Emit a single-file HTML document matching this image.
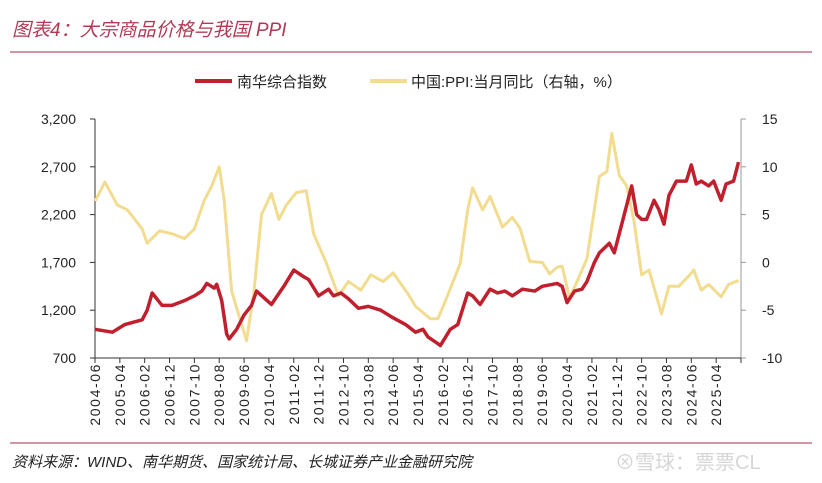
<!DOCTYPE html>
<html><head><meta charset="utf-8"><style>
body{margin:0;background:#fff;width:822px;height:478px;overflow:hidden;font-family:"Liberation Sans","Noto Sans CJK SC",sans-serif;}
svg text{font-family:"Liberation Sans","Noto Sans CJK SC",sans-serif;}
</style></head><body>
<svg id="c" width="822" height="478">
<text x="12" y="36" font-size="19" font-style="italic" fill="#b03a55">图表4：大宗商品价格与我国 PPI</text>
<line x1="10" y1="52" x2="812" y2="52" stroke="#b8566e" stroke-width="1.2"/>
<g>
<g><line x1="195" y1="81" x2="232" y2="81" stroke="#c0202e" stroke-width="4"/><text x="237" y="87" font-size="15" fill="#222">南华综合指数</text></g>
<g><line x1="370" y1="81" x2="407" y2="81" stroke="#f2dc90" stroke-width="4"/><text x="411" y="87" font-size="15" fill="#222">中国:PPI:当月同比（右轴，%）</text></g>
</g>
<g id="axes"></g>
<g id="marks"></g>
<line x1="10" y1="443" x2="812" y2="443" stroke="#b8566e" stroke-width="1.2"/>
<text x="12" y="467" font-size="15" font-style="italic" fill="#222">资料来源：WIND、南华期货、国家统计局、长城证券产业金融研究院</text>
<text x="615" y="469" font-size="20" fill="#d6d6d6">⊗雪球：票票CL</text>
</svg>
<script>
const xLabels=["2004-06","2005-04","2006-02","2006-12","2007-10","2008-08","2009-06","2010-04","2011-02","2011-12","2012-10","2013-08","2014-06","2015-04","2016-02","2016-12","2017-10","2018-08","2019-06","2020-04","2021-02","2021-12","2022-10","2023-08","2024-06","2025-04"];
const leftTicks=[700,1200,1700,2200,2700,3200];
const rightTicks=[-10,-5,0,5,10,15];
const nhDates=["2004-06","2005-01","2005-06","2006-01","2006-03","2006-05","2006-09","2007-01","2007-06","2007-10","2008-01","2008-03","2008-06","2008-07","2008-09","2008-11","2008-12","2009-03","2009-06","2009-09","2009-11","2010-05","2010-10","2011-02","2011-06","2011-08","2011-12","2012-04","2012-06","2012-09","2012-12","2013-04","2013-08","2014-01","2014-06","2014-11","2015-03","2015-06","2015-08","2015-12","2016-01","2016-05","2016-08","2016-12","2017-02","2017-05","2017-09","2017-12","2018-03","2018-06","2018-10","2019-03","2019-06","2019-12","2020-02","2020-04","2020-07","2020-10","2020-12","2021-03","2021-05","2021-09","2021-11","2022-01","2022-04","2022-06","2022-08","2022-10","2022-12","2023-03","2023-05","2023-07","2023-09","2023-12","2024-04","2024-06","2024-08","2024-10","2025-01","2025-03","2025-06","2025-08","2025-11","2026-01"];
const nhValues=[1000,970,1050,1100,1200,1380,1250,1250,1300,1350,1400,1480,1430,1470,1300,950,900,1000,1150,1250,1400,1260,1450,1620,1550,1520,1350,1420,1350,1380,1320,1220,1240,1200,1120,1050,970,1000,920,850,830,1000,1050,1380,1350,1260,1420,1380,1400,1350,1420,1400,1450,1480,1450,1280,1400,1420,1500,1700,1800,1900,1800,2000,2300,2500,2200,2150,2150,2350,2250,2100,2400,2550,2550,2720,2520,2550,2500,2550,2350,2520,2550,2750];
const ppiDates=["2004-06","2004-10","2005-03","2005-07","2006-01","2006-03","2006-08","2007-01","2007-06","2007-10","2008-02","2008-05","2008-08","2008-10","2009-01","2009-07","2009-10","2010-01","2010-05","2010-08","2010-11","2011-03","2011-07","2011-10","2012-03","2012-08","2012-12","2013-05","2013-09","2014-02","2014-06","2014-12","2015-03","2015-09","2015-12","2016-04","2016-09","2016-12","2017-02","2017-06","2017-09","2018-02","2018-06","2018-09","2019-01","2019-06","2019-09","2019-12","2020-02","2020-05","2020-08","2020-12","2021-05","2021-08","2021-10","2022-01","2022-04","2022-07","2022-10","2023-01","2023-06","2023-09","2024-01","2024-05","2024-07","2024-10","2025-01","2025-06","2025-09","2026-01"];
const ppiValues=[6.4,8.4,6,5.5,3.5,2.0,3.3,3,2.5,3.5,6.5,8,10,6.5,-3,-8.2,-3,5,7.2,4.5,6,7.3,7.5,3,0,-3.5,-2,-2.9,-1.3,-2,-1.1,-3.3,-4.6,-5.9,-5.9,-3.4,-0.1,5.5,7.8,5.5,6.9,3.7,4.7,3.6,0.1,0,-1.2,-0.5,-0.4,-3.7,-2,0.4,9,9.5,13.5,9.1,8,4.2,-1.3,-0.8,-5.4,-2.5,-2.5,-1.4,-0.8,-2.9,-2.3,-3.6,-2.3,-1.9];

const NS='http://www.w3.org/2000/svg';
const L=95,R=741,T=119,B=358;
function months(d){const [y,m]=d.split('-').map(Number);return (y-2004)*12+(m-6);}
function xs(d){return L+months(d)*(R-L)/260;}
function yl(v){return B-(v-700)/2500*(B-T);}
function yr(v){return B-(v+10)/25*(B-T);}
function mk(tag,attrs,parent){const e=document.createElementNS(NS,tag);for(const k in attrs)e.setAttribute(k,attrs[k]);parent.appendChild(e);return e;}
const ax=document.getElementById('axes'),mg=document.getElementById('marks');
let e=mk('line',{x1:L,y1:T,x2:L,y2:B,stroke:'#333','stroke-width':1},ax);


e=mk('line',{x1:R,y1:T,x2:R,y2:B,stroke:'#999','stroke-width':1},ax);


e=mk('line',{x1:L,y1:B,x2:R,y2:B,stroke:'#333','stroke-width':1},ax);


leftTicks.forEach(v=>{const y=yl(v);mk('line',{x1:L-5,y1:y,x2:L,y2:y,stroke:'#333'},ax);
 const t=mk('text',{x:L-19,y:y+5,'text-anchor':'end','font-size':14,fill:'#222'},ax);t.textContent=v.toLocaleString('en-US');
 
 });
rightTicks.forEach(v=>{const y=yr(v);mk('line',{x1:R,y1:y,x2:R+5,y2:y,stroke:'#999'},ax);
 const t=mk('text',{x:R+21,y:y+5,'font-size':14,fill:'#222'},ax);t.textContent=v;
 
 });
for(let i=0;i<=26;i++){const x=L+i*(R-L)/26;mk('line',{x1:x,y1:B,x2:x,y2:B+5,stroke:'#333'},ax);}
xLabels.forEach(d=>{const x=xs(d)+5;const t=mk('text',{x:0,y:0,'font-size':14,'letter-spacing':'1.6',fill:'#222','text-anchor':'end',transform:`translate(${x},${B+5}) rotate(-90)`},ax);t.textContent=d;
 
 });
let p=mk('polyline',{points:ppiDates.map((d,i)=>xs(d)+','+yr(ppiValues[i])).join(' '),fill:'none',stroke:'#f2dc90','stroke-width':3,'stroke-linejoin':'round'},mg);


p=mk('polyline',{points:nhDates.map((d,i)=>xs(d)+','+yl(nhValues[i])).join(' '),fill:'none',stroke:'#c0202e','stroke-width':3.5,'stroke-linejoin':'round'},mg);


</script>
</body></html>
